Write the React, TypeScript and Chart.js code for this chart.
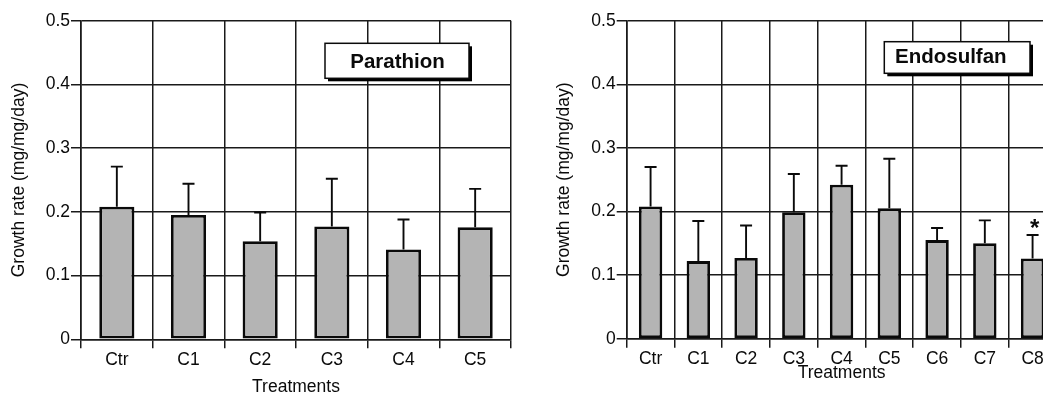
import { useEffect, useRef } from 'react';
import { Chart, registerables } from 'chart.js';

Chart.register(...registerables);

const FONT = '"Liberation Sans", Arial, Helvetica, sans-serif';

// ---- Data ----
const parathionLabels = ['Ctr', 'C1', 'C2', 'C3', 'C4', 'C5'];
const parathionMeans = [0.208, 0.195, 0.154, 0.177, 0.141, 0.176];
const parathionSD = [0.063, 0.049, 0.045, 0.075, 0.047, 0.06];
const parathionMarks = ['', '', '', '', '', ''];

const endosulfanLabels = ['Ctr', 'C1', 'C2', 'C3', 'C4', 'C5', 'C6', 'C7', 'C8'];
const endosulfanMeans = [0.208, 0.122, 0.127, 0.199, 0.242, 0.205, 0.155, 0.15, 0.126];
const endosulfanSD = [0.062, 0.063, 0.051, 0.06, 0.03, 0.078, 0.019, 0.036, 0.037];
const endosulfanMarks = ['', '', '', '', '', '', '', '', '*'];

const yTickValues = [0, 0.1, 0.2, 0.3, 0.4, 0.5];

const INK = '#0a0a0a';
const GRID = '#1a1a1a';
const BAR_FILL = '#b4b4b4';

type BoxSpec = { text: string; x: number; y: number; w: number; h: number; align: 'center' | 'left'; textX: number; baseline: number };
type LayoutSpec = {
  padRight: number;
  xAxisHeight: number;
  xTitlePad: number;
  yAxisWidth: number;
  yTitlePad: number;
};

function makeErrorBarPlugin(sd: number[], marks: string[]) {
  return {
    id: 'errorBars',
    afterDatasetsDraw(chart: any) {
      const { ctx } = chart;
      const yScale = chart.scales.y;
      const meta = chart.getDatasetMeta(0);
      const means = chart.data.datasets[0].data as number[];
      ctx.save();
      ctx.strokeStyle = INK;
      ctx.lineWidth = 1.9;
      meta.data.forEach((bar: any, i: number) => {
        const x = bar.x;
        const yBar = yScale.getPixelForValue(means[i]);
        const yTop = yScale.getPixelForValue(means[i] + sd[i]);
        ctx.beginPath();
        ctx.moveTo(x, yBar);
        ctx.lineTo(x, yTop);
        ctx.moveTo(x - 6, yTop);
        ctx.lineTo(x + 6, yTop);
        ctx.stroke();
        if (marks[i]) {
          ctx.fillStyle = INK;
          ctx.font = `bold 24px ${FONT}`;
          ctx.textAlign = 'center';
          ctx.textBaseline = 'alphabetic';
          const m = ctx.measureText(marks[i]);
          const off = (m.actualBoundingBoxAscent - m.actualBoundingBoxDescent) / 2;
          ctx.fillText(marks[i], x + 2, yTop - 12 + off);
        }
      });
      ctx.restore();
    },
  };
}

function makeBoxPlugin(box: BoxSpec) {
  return {
    id: 'labelBox',
    afterDraw(chart: any) {
      const { ctx } = chart;
      ctx.save();
      ctx.fillStyle = '#000';
      ctx.fillRect(box.x + 3, box.y + 3, box.w, box.h);
      ctx.fillStyle = '#fff';
      ctx.fillRect(box.x, box.y, box.w, box.h);
      ctx.strokeStyle = INK;
      ctx.lineWidth = 1.5;
      ctx.strokeRect(box.x, box.y, box.w, box.h);
      ctx.fillStyle = INK;
      ctx.font = `bold 20.5px ${FONT}`;
      ctx.textBaseline = 'alphabetic';
      ctx.textAlign = box.align === 'center' ? 'center' : 'left';
      ctx.fillText(box.text, box.textX, box.baseline);
      ctx.restore();
    },
  };
}

function buildConfig(labels: string[], means: number[], sd: number[], marks: string[], box: BoxSpec, L: LayoutSpec): any {
  return {
    type: 'bar',
    data: {
      labels,
      datasets: [
        {
          data: means,
          backgroundColor: BAR_FILL,
          borderColor: INK,
          borderWidth: 2.8,
          borderSkipped: false,
          barPercentage: 0.49,
          categoryPercentage: 1,
        },
      ],
    },
    options: {
      responsive: false,
      animation: false,
      devicePixelRatio: 1,
      layout: { padding: { left: 0, right: L.padRight, top: 20.7, bottom: 0 } },
      plugins: { legend: { display: false }, tooltip: { enabled: false } },
      scales: {
        x: {
          grid: { offset: true, color: GRID, lineWidth: 1.5, tickLength: 9, drawTicks: true },
          border: { color: GRID, width: 1.6 },
          ticks: { color: INK, font: { family: FONT, size: 17.5 }, padding: 1, maxRotation: 0, autoSkip: false },
          title: {
            display: true,
            text: 'Treatments',
            color: INK,
            font: { family: FONT, size: 17.5, lineHeight: 1 },
            padding: { top: 0, bottom: L.xTitlePad },
          },
          afterFit(s: any) {
            s.height = L.xAxisHeight;
          },
        },
        y: {
          min: 0,
          max: 0.5,
          afterBuildTicks(s: any) {
            s.ticks = yTickValues.map((v) => ({ value: v }));
          },
          grid: { color: GRID, lineWidth: 1.5, tickLength: 10, drawTicks: true },
          border: { color: GRID, width: 1.6 },
          ticks: {
            color: INK,
            font: { family: FONT, size: 17.5 },
            padding: 1,
            callback: (v: any) => (Number(v) === 0 ? '0' : Number(v).toFixed(1)),
          },
          title: {
            display: true,
            text: 'Growth rate (mg/mg/day)',
            color: INK,
            font: { family: FONT, size: 17.5, lineHeight: 1 },
            padding: { top: L.yTitlePad, bottom: 0 },
          },
          afterFit(s: any) {
            s.width = L.yAxisWidth;
          },
        },
      },
    },
    plugins: [makeErrorBarPlugin(sd, marks), makeBoxPlugin(box)],
  };
}

export default function App() {
  const leftRef = useRef<HTMLCanvasElement | null>(null);
  const rightRef = useRef<HTMLCanvasElement | null>(null);

  useEffect(() => {
    const left = new Chart(
      leftRef.current as HTMLCanvasElement,
      buildConfig(
        parathionLabels,
        parathionMeans,
        parathionSD,
        parathionMarks,
        { text: 'Parathion', x: 325, y: 43.3, w: 144, h: 35, align: 'center', textX: 397.5, baseline: 68.2 },
        { padRight: 9, xAxisHeight: 56.7, xTitlePad: 0, yAxisWidth: 81, yTitlePad: 10.25 }
      )
    );
    const right = new Chart(
      rightRef.current as HTMLCanvasElement,
      buildConfig(
        endosulfanLabels,
        endosulfanMeans,
        endosulfanSD,
        endosulfanMarks,
        { text: 'Endosulfan', x: 364.3, y: 41.7, w: 145.7, h: 31.6, align: 'left', textX: 375, baseline: 63 },
        { padRight: 3.55, xAxisHeight: 57.3, xTitlePad: 13.95, yAxisWidth: 106.7, yTitlePad: 35.25 }
      )
    );
    return () => {
      left.destroy();
      right.destroy();
    };
  }, []);

  return (
    <div
      style={{
        position: 'fixed',
        left: 0,
        top: 0,
        width: 1043,
        height: 396,
        overflow: 'hidden',
        background: '#fff',
      }}
    >
      <div style={{ position: 'absolute', left: 0, top: 0, width: 520, height: 396 }}>
        <canvas ref={leftRef} width={520} height={396} style={{ display: 'block' }} />
      </div>
      <div style={{ position: 'absolute', left: 520, top: 0, width: 540, height: 396 }}>
        <canvas ref={rightRef} width={540} height={396} style={{ display: 'block' }} />
      </div>
    </div>
  );
}
